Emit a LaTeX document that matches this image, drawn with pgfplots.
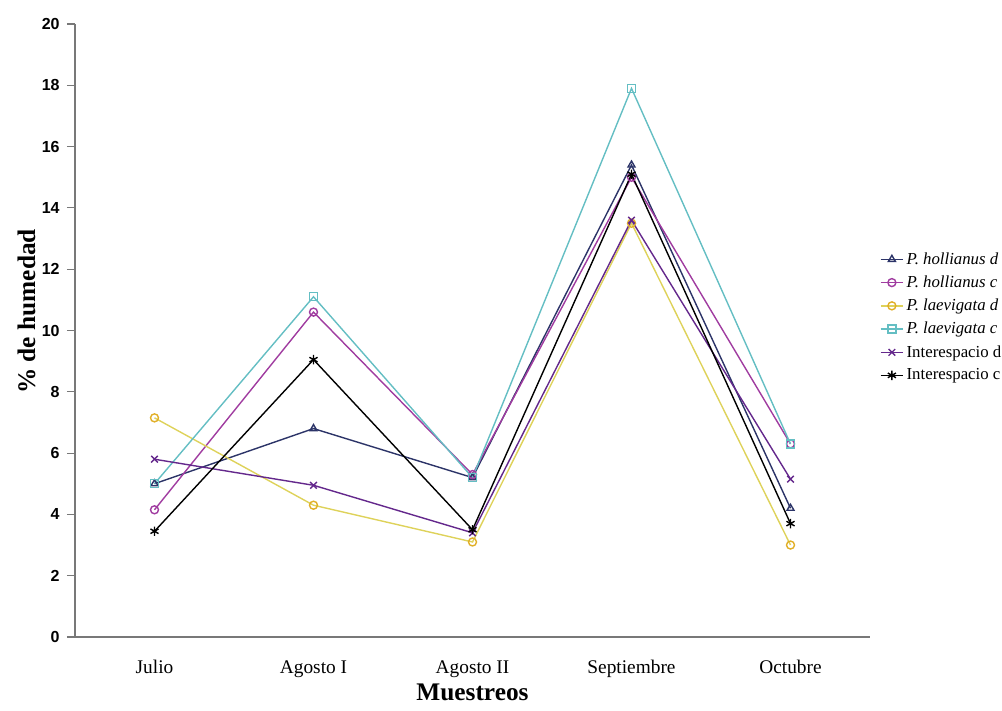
\documentclass[border=0pt]{standalone}
\usepackage{pgfplots}
\pgfplotsset{compat=1.18}
\usepackage{fontspec}
\setmainfont{Liberation Serif}
\newfontfamily\arialfont{Liberation Sans}

\definecolor{holld}{RGB}{44,52,104}
\definecolor{hollc}{RGB}{160,60,160}
\definecolor{laevd}{RGB}{222,210,90}
\definecolor{laevdm}{RGB}{225,175,40}
\definecolor{laevc}{RGB}{100,190,195}
\definecolor{interd}{RGB}{100,40,140}
\definecolor{axgray}{RGB}{120,120,120}

\begin{document}
\begin{tikzpicture}
\path[use as bounding box] (0,0) rectangle (751.5pt,532.5pt);
\begin{axis}[
  at={(56.25pt,54.75pt)}, anchor=south west,
  scale only axis, width=596.25pt, height=459.75pt,
  xmin=-0.5, xmax=4.5, ymin=0, ymax=20,
  axis lines*=left,
  axis line style={axgray, line width=0.8pt},
  xtick={0,1,2,3,4},
  xticklabels={Julio, Agosto I, Agosto II, Septiembre, Octubre},
  major x tick style={draw=none},
  extra x ticks={0.5,1.5,2.5,3.5,4.5},
  extra x tick labels={},
  extra x tick style={tick align=outside, major tick length=6pt, tick style={axgray, line width=0.8pt}},
  ytick={0,2,...,20},
  tick align=outside,
  major tick length=6pt,
  y tick style={axgray, line width=0.8pt},
  /pgf/number format/assume math mode=true,
  yticklabel style={font=\arialfont\bfseries\fontsize{12}{12}\selectfont, xshift=-2pt},
  xticklabel style={font=\fontsize{14.5}{15}\selectfont, yshift=-8pt},
  xlabel={\textbf{Muestreos}},
  xlabel style={font=\fontsize{19}{20}\selectfont, yshift=14pt},
  ylabel={\textbf{\% de humedad}},
  ylabel style={font=\fontsize{19}{20}\selectfont, at={(ticklabel cs:0.531)}, yshift=-2pt},
  every axis plot/.append style={line width=1.05pt, mark size=3pt},
  legend cell align=left,
  legend style={at={(1.012,0.632)}, anchor=north west, draw=none, fill=none,
    font=\fontsize{12.6}{14}\selectfont, row sep=3.2pt,
    inner sep=0pt},
  legend image code/.code={%
    \draw[mark repeat=2, mark phase=2] plot coordinates {(0cm,0cm) (0.3cm,0cm) (0.6cm,0cm)};},
]
\addplot[color=holld, mark=triangle, mark options={solid, holld}] coordinates
  {(0,5.0) (1,6.8) (2,5.2) (3,15.4) (4,4.2)};
\addlegendentry{\textit{P. hollianus d}}
\addplot[color=hollc, mark=o] coordinates
  {(0,4.15) (1,10.6) (2,5.3) (3,15.0) (4,6.3)};
\addlegendentry{\textit{P. hollianus c}}
\addplot[color=laevd, mark=o, mark options={laevdm}] coordinates
  {(0,7.15) (1,4.3) (2,3.1) (3,13.5) (4,3.0)};
\addlegendentry{\textit{P. laevigata d}}
\addplot[color=laevc, mark=square] coordinates
  {(0,5.0) (1,11.1) (2,5.2) (3,17.9) (4,6.3)};
\addlegendentry{\textit{P. laevigata c}}
\addplot[color=interd, mark=x, mark size=3.5pt] coordinates
  {(0,5.8) (1,4.95) (2,3.4) (3,13.6) (4,5.15)};
\addlegendentry{Interespacio d}
\addplot[color=black, mark=asterisk, mark size=3.5pt] coordinates
  {(0,3.45) (1,9.05) (2,3.5) (3,15.1) (4,3.7)};
\addlegendentry{Interespacio c}
\end{axis}
\end{tikzpicture}
\end{document}
